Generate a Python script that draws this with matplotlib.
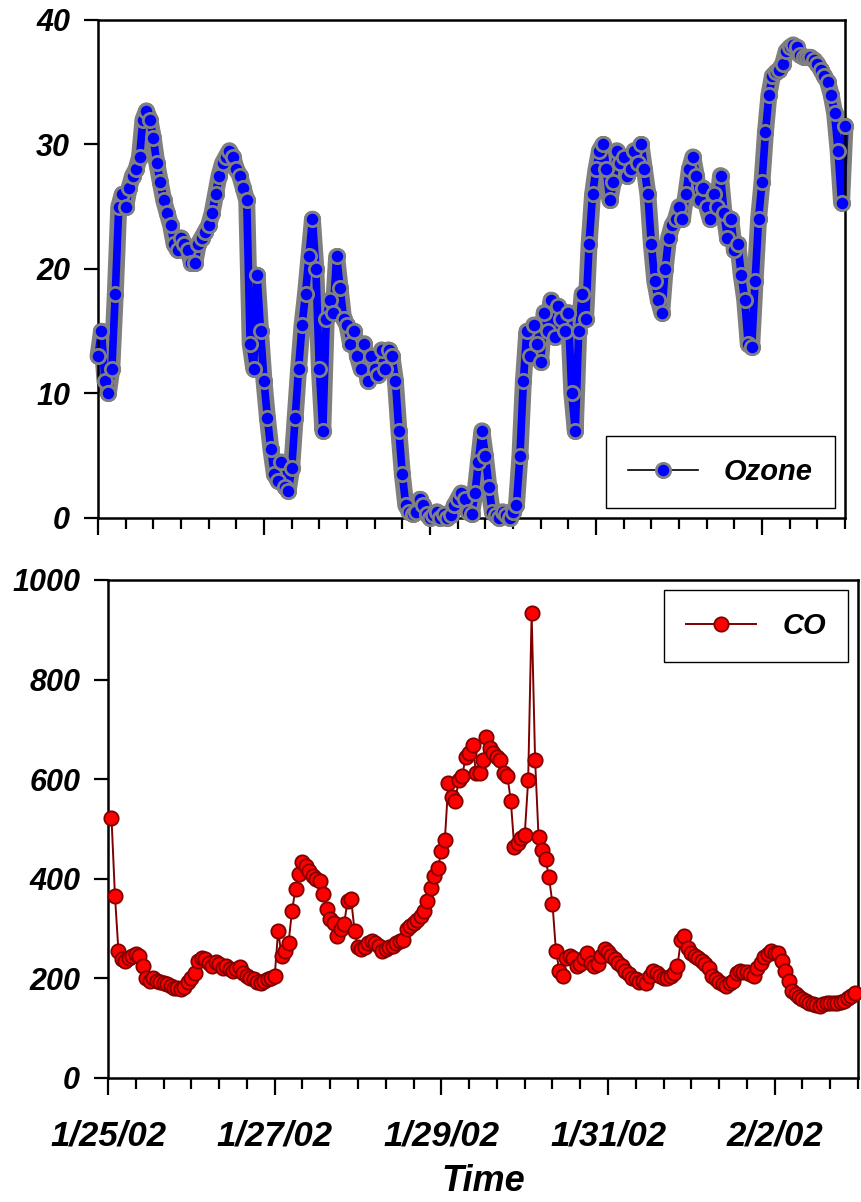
import numpy as np
import matplotlib.pyplot as plt
import matplotlib.patheffects as pe
from matplotlib.ticker import MultipleLocator

plt.rcParams['font.family'] = ['Liberation Sans', 'DejaVu Sans']
plt.rcParams['font.weight'] = 'bold'
plt.rcParams['font.style'] = 'italic'

# hourly ozone, starting 1/25/02 00:00
ozone = [
    13, 15, 11, 10, 12, 18, 25, 26, 25, 26.5, 27.5, 28, 29, 32, 32.7, 32, 30.5, 28.5, 27, 25.5, 24.5, 23.5, 22, 21.5,
    22.5, 22, 21.5, 20.5, 20.5, 22, 22.5, 23, 23.5, 24.5, 26, 27.5, 28.5, 29, 29.5, 29, 28, 27.5, 26.5, 25.5, 14, 12, 19.5, 15,
    11, 8, 5.5, 3.5, 3, 4.5, 2.5, 2.2, 4, 8, 12, 15.5, 18, 21, 24, 20, 12, 7, 16, 17.5, 16.5, 21, 18.5, 16,
    15.5, 14, 15, 13, 12, 14, 11, 13, 12, 11.5, 13.5, 12, 13.5, 13, 11, 7, 3.5, 1, 0.5, 0.3, 0.5, 1.5, 1, 0.3,
    0, 0.2, 0.5, 0, 0.3, 0, 0.2, 1, 1.5, 2, 1.5, 0.5, 0.3, 2, 4.5, 7, 5, 2.5, 0.5, 0.2, 0, 0.5, 0.2, 0,
    0.5, 1, 5, 11, 15, 13, 15.5, 14, 12.5, 16.5, 15, 17.5, 14.5, 17, 16, 15, 16.5, 10, 7, 15, 18, 16, 22, 26,
    28, 29.5, 30, 28, 25.5, 27, 29.5, 28.5, 29, 27.5, 28, 29.5, 28.5, 30, 28, 26, 22, 19, 17.5, 16.5, 20, 22.5, 23.5, 24,
    25, 24, 26, 28, 29, 27.5, 25.5, 26.5, 25, 24, 26, 25, 27.5, 24.5, 22.5, 24, 21.5, 22, 19.5, 17.5, 14, 13.7, 19, 24,
    27, 31, 34, 35.5, 35.8, 36, 36.5, 37.5, 37.8, 38, 37.8, 37.2, 37, 37, 37, 36.8, 36.5, 36, 35.5, 35, 34, 32.5, 29.5, 25.3, 31.5,
]

# hourly CO, starting 1/25/02 01:00
co = [
    523, 366, 255, 238, 235, 240, 245, 248, 245, 225, 200, 195, 200, 195, 192, 190, 188, 185, 180, 180, 178, 182, 192, 200,
    210, 235, 240, 238, 230, 225, 232, 228, 220, 225, 218, 215, 218, 222, 210, 205, 200, 198, 192, 190, 195, 198, 200, 205,
    295, 245, 255, 272, 336, 380, 410, 433, 425, 415, 406, 400, 396, 370, 340, 320, 312, 286, 300, 310, 356, 360, 296, 262,
    258, 262, 272, 276, 270, 265, 255, 258, 262, 265, 272, 275, 278, 300, 305, 312, 318, 325, 335, 356, 382, 405, 422, 455,
    477, 592, 565, 557, 598, 607, 644, 652, 668, 612, 612, 638, 684, 662, 652, 645, 638, 612, 607, 557, 463, 471, 481, 487,
    598, 934, 638, 483, 457, 440, 403, 350, 255, 215, 205, 240, 245, 240, 225, 228, 240, 250, 230, 225, 228, 245, 258, 252,
    245, 238, 230, 225, 215, 208, 200, 198, 192, 195, 190, 205, 215, 210, 205, 200, 200, 205, 210, 225, 278, 285, 260, 250,
    245, 240, 235, 228, 220, 205, 198, 192, 188, 185, 190, 195, 210, 215, 212, 212, 208, 205, 220, 230, 242, 248, 255, 250,
    250, 235, 215, 195, 175, 168, 162, 158, 155, 150, 148, 147, 145, 148, 150, 150, 150, 150, 152, 155, 160, 165, 170,
]

date_ticks = [0, 2, 4, 6, 8]
date_labels = ['1/25/02', '1/27/02', '1/29/02', '1/31/02', '2/2/02']

ozone_t = np.arange(len(ozone)) / 24
co_t = np.arange(1, len(co) + 1) / 24

fig = plt.figure(figsize=(8.62, 12.02), dpi=100)
ax1 = fig.add_axes([0.1137, 0.5691, 0.8666, 0.4143])
ax2 = fig.add_axes([0.1253, 0.1032, 0.8701, 0.4143])

# ozone: thin black line + dense blue markers with grey rims
ax1.plot(ozone_t, ozone, color='black', lw=1.2, marker='o', ms=10.3, mfc='blue',
         mec='grey', mew=2.0, label='Ozone', zorder=1.9, clip_on=False)
ax1.plot(ozone_t, ozone, color='blue', lw=5.5, solid_capstyle='round',
         solid_joinstyle='round', zorder=2, clip_on=False,
         path_effects=[pe.Stroke(linewidth=12.2, foreground='grey'), pe.Normal()])
ax1.plot(ozone_t, ozone, ls='none', marker='o', ms=10.3, mfc='blue', mec='grey',
         mew=2.0, zorder=3, clip_on=False)

ax2.plot(co_t, co, color='#800000', lw=1.4, marker='o', ms=10.3, mfc='red',
         mec='#800000', mew=1.3, label='CO', zorder=3, clip_on=False)

ax1.set_ylim(0, 40)
ax1.set_yticks([0, 10, 20, 30, 40])
ax2.set_ylim(0, 1000)
ax2.set_yticks([0, 200, 400, 600, 800, 1000])

for ax in (ax1, ax2):
    ax.set_xlim(0, 9)
    ax.xaxis.set_major_locator(MultipleLocator(2))
    ax.xaxis.set_minor_locator(MultipleLocator(1 / 3))
    for s in ax.spines.values():
        s.set_linewidth(1.8)
    ax.tick_params(axis='x', which='major', length=12, width=1.6, direction='out')
    ax.tick_params(axis='x', which='minor', length=8, width=1.6, direction='out')
    ax.tick_params(axis='y', length=10, width=1.6, direction='out', pad=10, labelsize=22)

ax1.set_xticks(date_ticks)
ax1.set_xticklabels([])
ax2.set_xticks(date_ticks)
ax2.set_xticklabels(date_labels, fontsize=25)
ax2.tick_params(axis='x', which='major', pad=18)
ax2.set_xlabel('Time', fontsize=26, fontweight='bold', fontstyle='italic', labelpad=8)

leg_kw = dict(fontsize=21, fancybox=False, edgecolor='black', framealpha=1,
              borderpad=0.75, handlelength=2.4, handletextpad=0.9, borderaxespad=0.35)
l1 = ax1.legend(loc='lower right', **leg_kw)
l2 = ax2.legend(loc='upper right', **leg_kw)
for l in (l1, l2):
    l.get_frame().set_linewidth(1.0)

fig.savefig('out.png', dpi=100)
